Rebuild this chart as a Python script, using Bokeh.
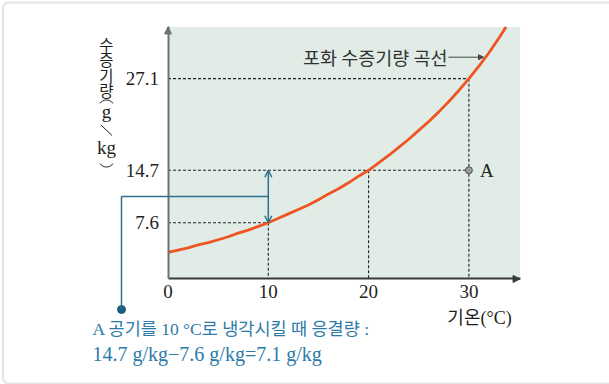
import math
from bokeh.plotting import figure
from bokeh.models import (Range1d, FixedTicker, Label, Arrow, OpenHead,
                          NormalHead, BoxAnnotation)
from bokeh.embed import file_html
from bokeh.resources import INLINE

# ---------------- data ----------------
temperature = [0, 1, 2, 3, 4, 5, 6, 7, 8, 9, 10, 11, 12, 13, 14, 15, 16, 17,
               18, 19, 20, 21, 22, 23, 24, 25, 26, 27, 28, 29, 30, 31, 32,
               33, 33.7]
saturation = [3.6, 3.9, 4.2, 4.6, 4.9, 5.3, 5.7, 6.2, 6.6, 7.1, 7.6, 8.2,
              8.8, 9.4, 10.0, 10.7, 11.5, 12.2, 13.0, 13.9, 14.7, 15.7, 16.7,
              17.8, 18.9, 20.1, 21.3, 22.6, 24.0, 25.5, 27.1, 28.8, 30.6,
              32.6, 34.1]
marked_temps = [10, 20, 30]
marked_vals = [7.6, 14.7, 27.1]
x_ticks = [0, 10, 20, 30]
y_ticks = [7.6, 14.7, 27.1]
A_temp, A_vapor = 30, 14.7
dew_temp, dew_vapor = 10, 7.6
X_MAX, Y_MAX = 35.1, 34.1   # extent of the shaded chart area

# ---------------- layout helpers (page pixel -> data) ----------------
W, H = 609, 384
PX_X0, PX_PER_X = 167.5, 10.03
PX_Y0, PX_PER_Y = 278.4, 7.39


def dx(page_x):
    return (page_x - PX_X0) / PX_PER_X


def dy(page_y):
    return (PX_Y0 - page_y) / PX_PER_Y


INK = "#231F20"
BLUE_LINE = "#2E6F90"
BLUE_TEXT = "#2C7AA8"
GREEN = "#E2ECE6"
SERIF = "Liberation Serif"
SANS_KR = "Noto Sans CJK KR"
MIX = "'Liberation Serif', 'Noto Sans CJK KR'"

p = figure(width=W, height=H, x_range=Range1d(dx(0), dx(W)),
           y_range=Range1d(dy(H), dy(0)),
           output_backend="svg", toolbar_location=None,
           min_border=0, min_border_left=0, min_border_right=0,
           min_border_top=0, min_border_bottom=0,
           background_fill_color="white", border_fill_color="white",
           outline_line_color=None)
p.grid.visible = False

# shaded chart area
p.quad(left=[0], right=[X_MAX], bottom=[0], top=[Y_MAX], fill_color=GREEN,
       line_color=None)

for ax, col in ((p.xaxis, "#3A3A3A"), (p.yaxis, "#707070")):
    ax.fixed_location = 0
    ax.axis_line_color = col
    ax.axis_line_width = 2
    ax.major_tick_line_color = None
    ax.minor_tick_line_color = None
    ax.major_tick_in = 0
    ax.major_tick_out = 0
    ax.minor_tick_in = 0
    ax.minor_tick_out = 0
    ax.major_label_text_font = SERIF
    ax.major_label_text_font_size = "19px"
    ax.major_label_text_color = INK
p.xaxis.bounds = (0, X_MAX)
p.yaxis.bounds = (0, Y_MAX)
p.xaxis.ticker = FixedTicker(ticks=x_ticks)
p.yaxis.ticker = FixedTicker(ticks=y_ticks)
p.xaxis.major_label_standoff = 6
p.yaxis.major_label_standoff = 9

# dashed guide lines
hx1 = [marked_temps[0], A_temp, marked_temps[2]]
p.segment(x0=[0, 0, 0] + marked_temps, y0=marked_vals + marked_vals,
          x1=hx1 + marked_temps, y1=marked_vals + [0, 0, 0],
          line_color="#222222", line_width=1.1, line_dash="3 2")

# saturation curve
p.line(temperature, saturation, line_color="#EE5522", line_width=2.8)

# point A
p.scatter([A_temp], [A_vapor], size=7, fill_color="#9A9A9A", line_color="#505050",
          line_width=1)
p.add_layout(Label(x=A_temp, y=A_vapor, x_offset=11, text="A", text_font=SERIF,
                   text_font_size="19px", text_color=INK, text_baseline="middle"))

# axis arrowheads
p.add_layout(Arrow(x_start=X_MAX - 1, y_start=0, x_end=X_MAX, y_end=0,
                   line_alpha=0,
                   end=NormalHead(size=7, fill_color="#3A3A3A", line_color="#3A3A3A")))
p.add_layout(Arrow(x_start=0, y_start=Y_MAX - 1, x_end=0, y_end=Y_MAX,
                   line_alpha=0,
                   end=NormalHead(size=7, fill_color="#707070", line_color="#707070")))

# curve name with leader
curve_y = dy(56.7)
p.add_layout(Label(x=dx(447), y=curve_y, text="포화 수증기량 곡선", text_font=SANS_KR,
                   text_font_size="18.5px", text_color="#333333", text_align="right",
                   text_baseline="middle"))
p.add_layout(Arrow(x_start=dx(448), y_start=curve_y, x_end=dx(483), y_end=curve_y,
                   line_color="#444444", line_width=1,
                   end=NormalHead(size=5, fill_color="#444444", line_color="#444444")))

# blue condensation arrow and connector
p.add_layout(Arrow(x_start=dew_temp, y_start=dew_vapor, x_end=dew_temp, y_end=A_vapor,
                   line_color=BLUE_LINE, line_width=1.5,
                   start=OpenHead(size=7, line_color=BLUE_LINE, line_width=1.5),
                   end=OpenHead(size=7, line_color=BLUE_LINE, line_width=1.5)))
mid = (dew_vapor + A_vapor) / 2
left_x = dx(121)
dot_y = dy(309)
p.add_layout(Arrow(x_start=left_x, y_start=mid, x_end=dew_temp, y_end=mid, end=None,
                   line_color=BLUE_LINE, line_width=1.5))
p.add_layout(Arrow(x_start=left_x, y_start=mid, x_end=left_x, y_end=dot_y, end=None,
                   line_color=BLUE_LINE, line_width=1.5))
p.scatter([left_x], [dot_y], size=8, fill_color="#1D5B7D", line_color="#1D5B7D")

# explanation text
p.add_layout(Label(x=dx(92), y=dy(328), text="A 공기를 10 °C로 냉각시킬 때 응결량 :",
                   text_font=MIX, text_font_size="17.5px", text_color=BLUE_TEXT,
                   text_baseline="alphabetic"))
p.add_layout(Label(x=dx(92), y=dy(353), text="14.7 g/kg−7.6 g/kg=7.1 g/kg",
                   text_font=MIX, text_font_size="20px", text_color=BLUE_TEXT,
                   text_baseline="alphabetic"))

# x-axis title
p.add_layout(Label(x=dx(479), y=dy(317.5), text="기온(°C)", text_font=MIX,
                   text_font_size="18px", text_color=INK, text_align="center",
                   text_baseline="middle"))

# vertical y-axis title (vertical writing)
ytitle_chars = ["수", "증", "기", "량", "g", "kg"]
ytitle_pos = [43.5, 58.9, 74.0, 89.0, 110.5, 147.0]
TX = dx(106)
for ch, py in zip(ytitle_chars, ytitle_pos):
    latin = ch in ("g", "kg")
    p.add_layout(Label(x=TX, y=dy(py), text=ch,
                       text_font=SERIF if latin else SANS_KR,
                       text_font_size="19px" if latin else "15.5px", text_color=INK,
                       text_align="center", text_baseline="middle"))
# the rotated "/" between g and kg
p.add_layout(Arrow(x_start=dx(100.5), y_start=dy(124.5), x_end=dx(111.5),
                   y_end=dy(135), end=None, line_color=INK, line_width=1))
# the rotated "(" and ")" of vertical writing
p.arc(x=[TX, TX], y=[dy(107.5), dy(158.5)], radius=8, radius_units="screen",
      start_angle=[math.radians(35), math.radians(215)],
      end_angle=[math.radians(145), math.radians(325)],
      line_color=INK, line_width=1)

# outer rounded frame
p.add_layout(BoxAnnotation(left=dx(2.5), right=dx(W + 40), top=dy(2), bottom=dy(383),
                           fill_alpha=0, line_color="#A9A9A9", line_width=2,
                           border_radius=6))

open("out.html", "w").write(file_html(p, INLINE))
